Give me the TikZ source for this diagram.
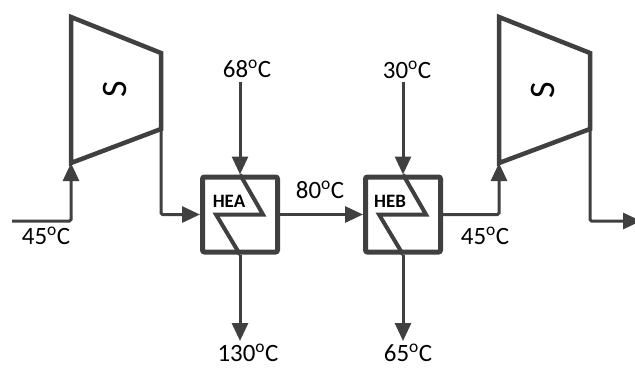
\documentclass[tikz,border=0pt]{standalone}
\usepackage{fontspec}
\setmainfont{Carlito}
\usetikzlibrary{arrows.meta,positioning}
\definecolor{pipegray}{HTML}{404040}
\newcommand{\degc}{\textsuperscript{o}C}

\begin{document}
\begin{tikzpicture}[x=1bp, y=-1bp,
    pipe/.style={draw=pipegray, line width=3bp, rounded corners=1.5bp},
    flow/.style={pipe, -{Triangle[length=18bp, width=16bp]}},
    hx/.style={draw=pipegray, line width=5bp, rounded corners=2bp, minimum size=75bp, inner sep=0pt},
    zig/.style={draw=pipegray, line width=4bp},
    comp/.style={draw=pipegray, line width=4.5bp},
    temp/.style={font=\fontsize{25}{30}\selectfont, inner sep=0pt},
    tag/.style={font=\fontsize{19}{22}\selectfont\bfseries, inner sep=0pt},
    rotor/.style={font=\fontsize{36}{40}\selectfont, rotate=90, inner sep=0pt}
    ]
    \useasboundingbox (0,0) rectangle (635,367);

    % compressors
    \draw[comp] (71,17) coordinate (c1tl) -- (161,53) coordinate (c1tr)
      -- (161,129) coordinate (c1br) -- (71,163) coordinate (c1bl) -- cycle;
    \draw[comp] (499,17) coordinate (c2tl) -- (590,53) coordinate (c2tr)
      -- (590,129) coordinate (c2br) -- (499,163) coordinate (c2bl) -- cycle;
    \node[rotor] (s1) at (115,89) {S};
    \node[rotor] (s2) at (543,90) {S};

    % heat exchangers
    \node[hx] (hea) at (240,214.5) {};
    \node[hx] (heb) at (403,214.5) {};
    \draw[zig] (hea.north) -- ++(23,40) -- ++(-47,0) -- (hea.south);
    \draw[zig] (heb.north) -- ++(23,40) -- ++(-47,0) -- (heb.south);
    \node[tag] (taga) at (229,201) {HEA};
    \node[tag] (tagb) at (390,201) {HEB};

    \coordinate (in1) at (12,221);
    \coordinate (out2) at (641,221);
    \coordinate (hotin) at (240,82);
    \coordinate (hotout) at (240,341);
    \coordinate (coldin) at (403,82);
    \coordinate (coldout) at (403,341);

    \draw[flow] (in1) -| (c1bl);
    \draw[flow] (c1br) |- (hea.west);
    \draw[flow] (hea.east) -- (heb.west);
    \draw[flow] (heb.east) -| (c2bl);
    \draw[flow] (c2br) |- (out2);
    \draw[flow] (hotin) -- (hea.north);
    \draw[flow] (hea.south) -- (hotout);
    \draw[flow] (coldin) -- (heb.north);
    \draw[flow] (heb.south) -- (coldout);

    % temperatures
    \node[temp] (tin) at (46,236) {45\degc};
    \node[temp] (thot) at (247,69) {68\degc};
    \node[temp] (thotout) at (248,353) {130\degc};
    \node[temp] (tmid) at (320,190) {80\degc};
    \node[temp] (tcold) at (407,70) {30\degc};
    \node[temp] (tcoldout) at (408,353) {65\degc};
    \node[temp] (tout) at (485,236) {45\degc};
\end{tikzpicture}
\end{document}
